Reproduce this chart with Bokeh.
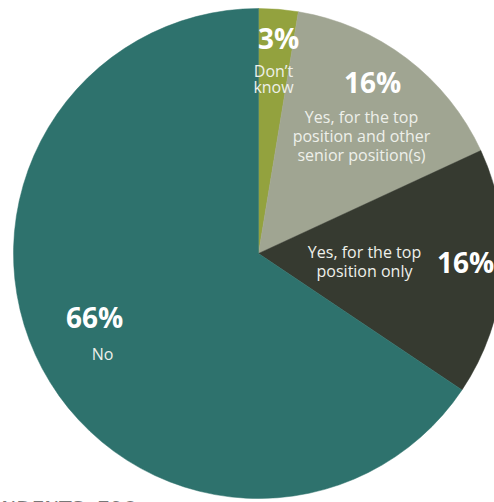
import math
from bokeh.plotting import figure
from bokeh.models import Range1d, ColumnDataSource
from bokeh.core.properties import value
from bokeh.embed import file_html
from bokeh.resources import INLINE

# data
categories = ["Don't know", "Yes, for the top position and other senior position(s)",
              "Yes, for the top position only", "No"]
shares = [2.6, 15.5, 16.3, 65.6]
pct_labels = ["3%", "16%", "16%", "66%"]
colors = ["#93a23e", "#a0a592", "#363a30", "#2e726d"]
footer = "RESPONDENTS: 796"

W, H = 494, 502
p = figure(width=W, height=H, output_backend="svg", toolbar_location=None,
           x_range=Range1d(0, W), y_range=Range1d(0, H), min_border=0)
p.axis.visible = False
p.grid.visible = False
p.outline_line_color = None
p.background_fill_color = "white"
p.border_fill_color = "white"

def Y(py):
    return H - py

total = sum(shares)
starts, ends = [], []
cum = 0.0
for s in shares:
    a0 = math.pi / 2 - 2 * math.pi * (cum + s) / total
    a1 = math.pi / 2 - 2 * math.pi * cum / total
    starts.append(a0)
    ends.append(a1)
    cum += s

src = ColumnDataSource(dict(start=starts, end=ends, color=colors, cat=categories))
cx, cy, r = 258, Y(253), 245
p.wedge(x=cx, y=cy, radius=r, start_angle="start", end_angle="end",
        fill_color="color", line_color="color", line_width=0.5, source=src)

font = value("Open Sans")
big = dict(text_font=font, text_font_style="bold", text_font_size="28px",
           text_color="white", text_align="center", text_baseline="alphabetic")
small = dict(text_font=font, text_font_size="16px", text_color="#eef0ea",
             text_align="center", text_baseline="alphabetic")

def lines(x, baselines, texts, style, shift):
    p.text(x=[x] * len(texts), y=[Y(b - shift) for b in baselines], text=texts, **style)

BIG, SMALL = 11, 6
# Don't know
lines(278, [48], [pct_labels[0]], big, BIG)
lines(273, [76, 92], ["Don\u2019t", "know"], small, SMALL)
# Yes top + other
lines(372, [92], [pct_labels[1]], big, BIG)
lines(361, [122, 141, 160], ["Yes, for the top", "position and other", "senior position(s)"], small, SMALL)
# Yes top only
lines(364, [257, 276], ["Yes, for the top", "position only"], small, SMALL)
lines(465, [272], [pct_labels[2]], big, BIG)
# No
lines(94, [329], [pct_labels[3]], big, BIG + 2)
lines(102, [359], ["No"], small, SMALL)

# footer (partially clipped)
p.text(x=[135], y=[Y(507)], text=[footer], text_font=value("DejaVu Sans"),
       text_font_size="20px", text_color="#777777", text_align="right",
       text_baseline="alphabetic")

open("out.html", "w").write(file_html(p, INLINE))
